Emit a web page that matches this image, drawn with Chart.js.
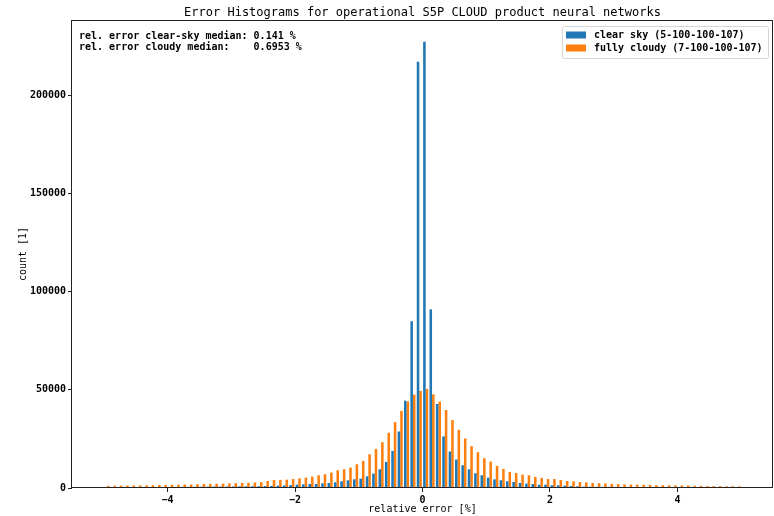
<!DOCTYPE html>
<html>
<head>
<meta charset="utf-8">
<script src="https://cdn.jsdelivr.net/npm/chart.js@4.4.1/dist/chart.umd.min.js"></script>
<style>
  html, body { margin: 0; padding: 0; background: #fff; }
  #wrap { width: 774px; height: 516px; }
</style>
</head>
<body>
<div id="wrap"><canvas id="histChart" width="774" height="516"></canvas></div>
<script>
// histogram bins: 100 bins of width 0.1 between -5 and 5 (relative error in %)
const BIN_START = -5;
const BIN_WIDTH = 0.1;
const BIN_COUNT = 100;

const clearSkyCounts = [
  300, 320, 350, 350, 380, 400, 420, 450, 480, 500,
  520, 550, 580, 600, 620, 650, 700, 720, 750, 780,
  800, 850, 880, 900, 900, 1000, 1100, 1200, 1300, 1500,
  1700, 1880, 2050, 2050, 2390, 2560, 2900, 3410, 3920, 4430,
  4770, 5970, 7330, 9550, 13300, 18900, 28800, 44500, 85000, 217200,
  227400, 91000, 42800, 26300, 18600, 14500, 11600, 9550, 7500, 6480,
  5290, 4430, 3920, 3410, 3070, 2560, 2220, 2050, 1700, 1700,
  1360, 1360, 1190, 1020, 850, 680, 650, 620, 600, 570,
  550, 520, 500, 480, 460, 440, 420, 400, 380, 360,
  350, 340, 320, 300, 290, 280, 270, 260, 250, 240,
];

const cloudyCounts = [
  1100, 1150, 1200, 1250, 1300, 1300, 1350, 1400, 1550, 1600,
  1650, 1700, 1750, 1800, 1950, 2050, 2100, 2150, 2200, 2350,
  2500, 2550, 2650, 2800, 2950, 3580, 4090, 4150, 4260, 4600,
  4940, 5290, 5800, 6480, 6990, 7840, 9040, 9550, 10400, 12100,
  13800, 17200, 19950, 23360, 28130, 33590, 39300, 44100, 47570, 49500,
  50470, 47740, 43990, 39730, 34610, 29670, 25230, 21310, 18240, 15170,
  13470, 11250, 9720, 8180, 7670, 6820, 6480, 5630, 5120, 4600,
  4600, 4090, 3580, 3410, 3070, 2900, 2600, 2450, 2350, 2100,
  2000, 1800, 1750, 1700, 1650, 1600, 1450, 1400, 1350, 1300,
  1300, 1250, 1100, 1050, 1000, 950, 950, 900, 900, 850,
];

const xTicks = [-4, -2, 0, 2, 4];
const yTicks = [0, 50000, 100000, 150000, 200000];

const seriesLabels = ["clear sky (5-100-100-107)", "fully cloudy (7-100-100-107)"];
const statLines = [
  "rel. error clear-sky median: 0.141 %",
  "rel. error cloudy median:    0.6953 %",
];
const titleText = "Error Histograms for operational S5P CLOUD product neural networks";
const xTitle = "relative error [%]";
const yTitle = "count [1]";

const MONO = '"DejaVu Sans Mono", monospace';
const BLUE = "#1f77b4";
const ORANGE = "#ff7f0e";

const binCenters = [];
for (let i = 0; i < BIN_COUNT; i++) {
  binCenters.push(Math.round((BIN_START + BIN_WIDTH * (i + 0.5)) * 100) / 100);
}

function toPoints(counts) {
  return counts.map((c, i) => ({ x: binCenters[i], y: c }));
}

const decorPlugin = {
  id: "decor",
  beforeDraw(chart) {
    const ctx = chart.ctx;
    ctx.save();
    ctx.fillStyle = "#fff";
    ctx.fillRect(0, 0, chart.width, chart.height);
    ctx.restore();
  },
  afterDraw(chart) {
    const ctx = chart.ctx;
    const area = chart.chartArea;
    ctx.save();

    // frame (all four spines)
    ctx.strokeStyle = "#222";
    ctx.lineWidth = 1;
    ctx.strokeRect(Math.round(area.left) - 0.5, Math.round(area.top) + 0.5,
      Math.round(area.right - area.left), Math.round(area.bottom - area.top) - 1);

    // title
    ctx.fillStyle = "#000";
    ctx.font = "12px " + MONO;
    ctx.textAlign = "center";
    ctx.textBaseline = "middle";
    ctx.fillText(titleText, (area.left + area.right) / 2, 13);

    // axis titles
    ctx.font = "10px " + MONO;
    ctx.fillText(xTitle, (area.left + area.right) / 2, 509);
    ctx.save();
    ctx.translate(23, (area.top + area.bottom) / 2);
    ctx.rotate(-Math.PI / 2);
    ctx.fillText(yTitle, 0, 0);
    ctx.restore();

    // median text
    ctx.font = "bold 10px " + MONO;
    ctx.textAlign = "left";
    statLines.forEach((line, i) => {
      ctx.fillText(line, 79, 36 + i * 11);
    });

    // legend
    const lx = 562, ly = 26, lw = 206, lh = 32;
    ctx.fillStyle = "rgba(255,255,255,0.8)";
    ctx.strokeStyle = "#d6d6d6";
    ctx.beginPath();
    ctx.roundRect(lx + 0.5, ly + 0.5, lw, lh, 2);
    ctx.fill();
    ctx.stroke();
    const colors = [BLUE, ORANGE];
    seriesLabels.forEach((label, i) => {
      const y = 35 + i * 13;
      ctx.fillStyle = colors[i];
      ctx.fillRect(566, y - 3.5, 20, 7);
      ctx.fillStyle = "#000";
      ctx.fillText(label, 594, y);
    });

    ctx.restore();
  },
};

new Chart(document.getElementById("histChart"), {
  type: "bar",
  data: {
    datasets: [
      {
        label: seriesLabels[0],
        data: toPoints(clearSkyCounts),
        backgroundColor: BLUE,
        borderWidth: 0,
        categoryPercentage: 0.8,
        barPercentage: 1.0,
      },
      {
        label: seriesLabels[1],
        data: toPoints(cloudyCounts),
        backgroundColor: ORANGE,
        borderWidth: 0,
        categoryPercentage: 0.8,
        barPercentage: 1.0,
      },
    ],
  },
  options: {
    responsive: false,
    animation: false,
    devicePixelRatio: 1,
    layout: { padding: { top: 20, right: 1, left: 0, bottom: 0 } },
    plugins: {
      legend: { display: false },
      title: { display: false },
      tooltip: { enabled: false },
    },
    scales: {
      x: {
        type: "linear",
        offset: false,
        min: -5.5,
        max: 5.5,
        afterBuildTicks: (scale) => {
          scale.ticks = xTicks.map((v) => ({ value: v }));
        },
        afterFit: (scale) => {
          scale.height = 28;
        },
        grid: {
          offset: false,
          drawOnChartArea: false,
          drawTicks: true,
          tickLength: 4,
          color: "#222",
        },
        border: { display: false },
        ticks: {
          autoSkip: false,
          maxRotation: 0,
          padding: 2,
          color: "#000",
          font: { family: MONO, size: 10, weight: "bold" },
          callback: (v) => String(v).replace("-", "\u2212"),
        },
      },
      y: {
        min: 0,
        max: 238500,
        afterBuildTicks: (scale) => {
          scale.ticks = yTicks.map((v) => ({ value: v }));
        },
        afterFit: (scale) => {
          scale.width = 72;
        },
        grid: {
          offset: false,
          drawOnChartArea: false,
          drawTicks: true,
          tickLength: 4,
          color: "#222",
        },
        border: { display: false },
        ticks: {
          padding: 2,
          color: "#000",
          font: { family: MONO, size: 10, weight: "bold" },
          callback: (v) => String(v),
        },
      },
    },
  },
  plugins: [decorPlugin],
});
</script>
</body>
</html>
